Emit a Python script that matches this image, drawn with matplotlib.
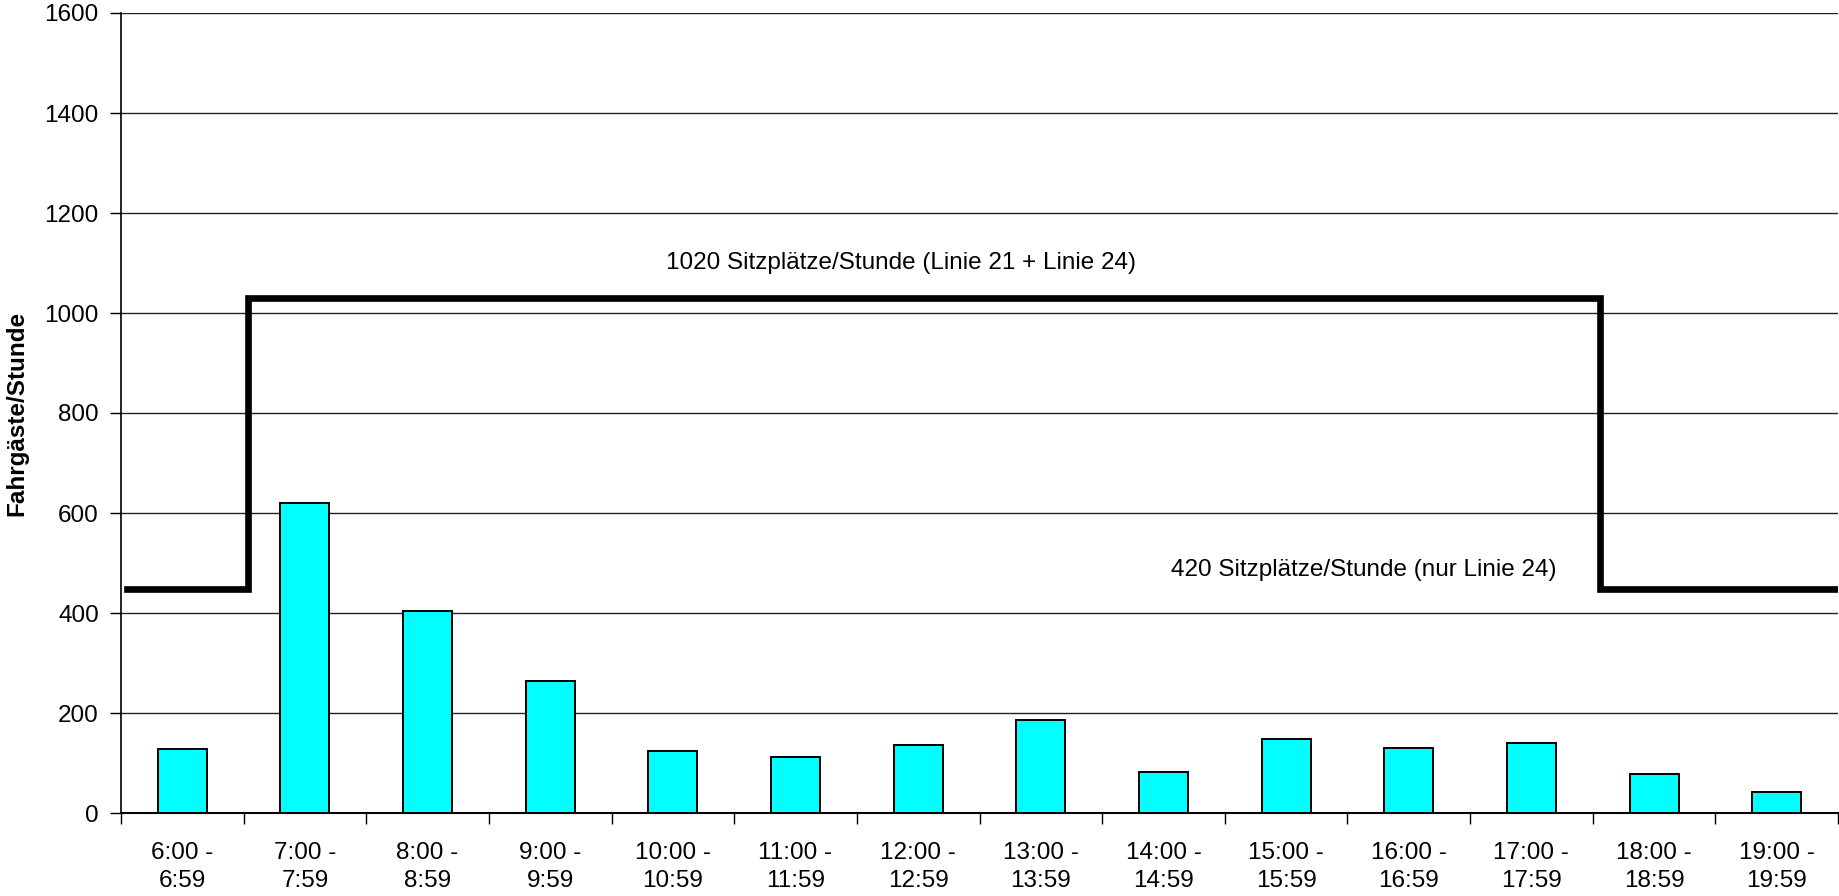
import matplotlib
matplotlib.use("Agg")
import matplotlib.pyplot as plt
import numpy as np

plt.rcParams['font.family'] = ['Liberation Sans', 'DejaVu Sans']

categories = ["6:00 -\n6:59", "7:00 -\n7:59", "8:00 -\n8:59", "9:00 -\n9:59",
              "10:00 -\n10:59", "11:00 -\n11:59", "12:00 -\n12:59", "13:00 -\n13:59",
              "14:00 -\n14:59", "15:00 -\n15:59", "16:00 -\n16:59", "17:00 -\n17:59",
              "18:00 -\n18:59", "19:00 -\n19:59"]
passengers = [128, 619, 404, 265, 125, 112, 137, 186, 83, 149, 130, 141, 78, 43]

# seat capacity step line (x in category units, y in seats/hour)
capacity_x = [-0.455, 0.535, 0.535, 11.56, 11.56, 13.5]
capacity_y = [449, 449, 1030, 1030, 449, 449]

label_high = "1020 Sitzplätze/Stunde (Linie 21 + Linie 24)"
label_low = "420 Sitzplätze/Stunde (nur Linie 24)"
yticks = [0, 200, 400, 600, 800, 1000, 1200, 1400, 1600]

fig = plt.figure(figsize=(18.4, 8.96), dpi=100)
ax = fig.add_axes([121/1840, 1 - 813/896, (1838-121)/1840, (813-13)/896])

x = np.arange(len(categories))
ax.bar(x, passengers, width=0.4, color='#00FFFF', edgecolor='black', linewidth=1.4, zorder=3)
ax.plot(capacity_x, capacity_y, color='black', linewidth=4.8, solid_joinstyle='miter', zorder=4)

ax.text(5.86, 1100, label_high, ha='center', va='center', fontsize=17.5)
ax.text(9.63, 486, label_low, ha='center', va='center', fontsize=17.5)

ax.set_xlim(-0.5, 13.5)
ax.set_ylim(0, 1600)
ax.set_yticks(yticks)
ax.set_yticklabels([str(v) for v in yticks])
ax.yaxis.grid(True, color='#222222', linewidth=1.0, zorder=0)
ax.set_axisbelow(True)

ax.set_xticks(x)
ax.set_xticklabels(categories, fontsize=17.5, linespacing=1.35)
ax.set_xticks(np.arange(-0.5, 13.6, 1), minor=True)
ax.tick_params(axis='x', which='major', length=0, pad=21)
ax.tick_params(axis='x', which='minor', length=8, width=1, direction='out', color='black')
ax.tick_params(axis='y', length=8, width=1, direction='out', pad=8, labelsize=17.5)

for s in ['top', 'right']:
    ax.spines[s].set_visible(False)
ax.spines['left'].set_linewidth(1.2)
ax.spines['bottom'].set_linewidth(1.5)

fig.text(17/1840, 1 - 413/896, "Fahrgäste/Stunde", rotation=90, ha='center', va='center',
         fontsize=17.5, fontweight='bold')

fig.savefig("out.png", dpi=100)
